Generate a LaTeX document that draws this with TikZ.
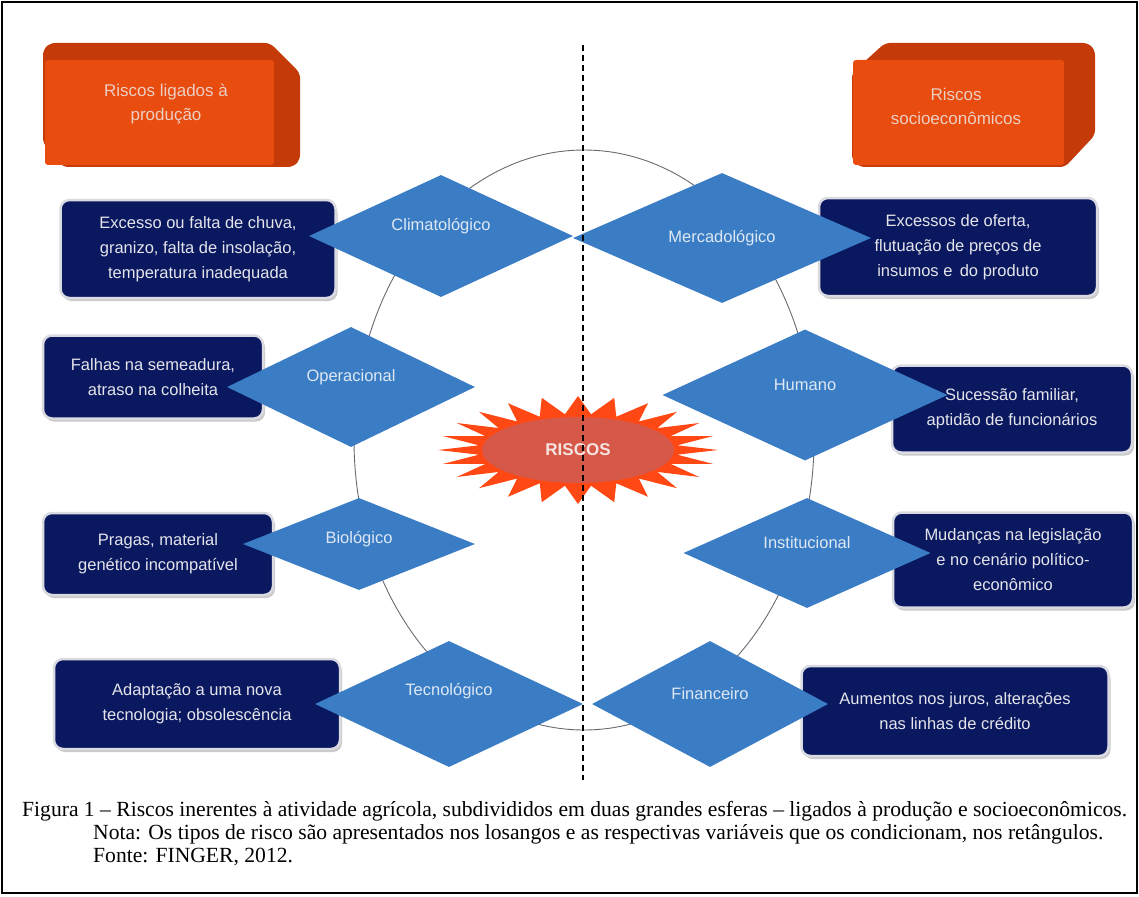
\documentclass[tikz,border=0pt]{standalone}
\usepackage{fontspec}
\setmainfont{Liberation Serif}
\setsansfont{Liberation Sans}
\usetikzlibrary{shapes.geometric,shadows}

\definecolor{navy}{RGB}{10,24,96}
\definecolor{boxedge}{RGB}{218,218,226}
\definecolor{boxtext}{RGB}{228,228,234}
\definecolor{losango}{RGB}{58,125,196}
\definecolor{rtext}{RGB}{222,232,244}
\definecolor{orangeface}{RGB}{232,76,14}
\definecolor{orangebevel}{RGB}{196,58,8}
\definecolor{orangetext}{RGB}{236,206,196}
\definecolor{starout}{RGB}{255,72,20}
\definecolor{starin}{RGB}{214,88,72}
\definecolor{ring}{RGB}{105,105,115}

\newcommand\boxfont{\sffamily\fontsize{16.5}{25}\selectfont}
\newcommand\capfont{\fontsize{21.6}{23}\selectfont}

\tikzset{
  varbox/.style={rectangle,rounded corners=9pt,fill=navy,draw=boxedge,line width=2.5pt,
    text=boxtext,align=center,font=\boxfont,
    drop shadow={shadow xshift=2pt,shadow yshift=-3pt,opacity=.35,fill=black!60}},
  risco/.style={diamond,fill=losango,inner sep=0pt},
  rlabel/.style={text=rtext,font=\boxfont,yshift=10pt},
  toptext/.style={text=orangetext,align=center,font=\sffamily\fontsize{17}{24}\selectfont,inner sep=0pt},
  captxt/.style={anchor=west,inner sep=0pt,font=\capfont}
}

\begin{document}
\begin{tikzpicture}[x=1pt,y=-1pt]
\useasboundingbox (0,0) rectangle (1139,896);
\draw[line width=1.2pt] (2,2) rectangle (1137,893);

\coordinate (O) at (584,440);
\draw[line width=0.9pt,draw=ring] (O) ellipse [x radius=230,y radius=290];

\node (V1) at (198,249) [varbox,minimum width=275pt,minimum height=98pt] {Excesso ou falta de chuva,\\granizo, falta de insolação,\\temperatura inadequada};
\node (V2) at (153,377) [varbox,minimum width=220pt,minimum height=83pt] {Falhas na semeadura,\\atraso na colheita};
\node (V3) at (158,554) [varbox,minimum width=230pt,minimum height=82pt] {Pragas, material\\genético incompatível};
\node (V4) at (197,704) [varbox,minimum width=286pt,minimum height=90pt] {Adaptação a uma nova\\tecnologia; obsolescência};

\node (W1) at (958,247) [varbox,minimum width=278pt,minimum height=98pt] {Excessos de oferta,\\flutuação de preços de\\insumos e\, do produto};
\node (W2) at (1012,409) [varbox,minimum width=240pt,minimum height=87pt] {Sucessão familiar,\\aptidão de funcionários};
\node (W3) at (1013,560) [varbox,minimum width=240pt,minimum height=95pt] {Mudanças na legislação\\e no cenário político-\\econômico};
\node (W4) at (955,711) [varbox,minimum width=307pt,minimum height=90pt] {Aumentos nos juros, alterações\\nas linhas de crédito};

\node (D1) at (441,236) [risco,minimum width=264pt,minimum height=122pt,label={[rlabel]center:Climatológico}] {};
\node (D2) at (722,238) [risco,minimum width=298pt,minimum height=130pt,label={[rlabel,yshift=-10pt]center:Mercadológico}] {};
\node (D3) at (351,387) [risco,minimum width=248pt,minimum height=120pt,label={[rlabel]center:Operacional}] {};
\node (D4) at (805,395) [risco,minimum width=285pt,minimum height=131pt,label={[rlabel]center:Humano}] {};
\node (D5) at (359,544) [risco,minimum width=232pt,minimum height=92pt,label={[rlabel,yshift=-5pt]center:Biológico}] {};
\node (D6) at (807,553) [risco,minimum width=247pt,minimum height=110pt,label={[rlabel]center:Institucional}] {};
\node (D7) at (449,704) [risco,minimum width=268pt,minimum height=126pt,label={[rlabel,yshift=3pt]center:Tecnológico}] {};
\node (D8) at (710,704) [risco,minimum width=236pt,minimum height=126pt,label={[rlabel]center:Financeiro}] {};

\coordinate (S) at (578,450);
\fill[starout,shift={(S)}] (0:140 and 54)
  \foreach \k [evaluate=\k as \a using \k*7.5,
               evaluate=\k as \rx using {isodd(\k)?100:140},
               evaluate=\k as \ry using {isodd(\k)?36:54}] in {1,...,47} { -- (\a:{\rx} and {\ry}) } -- cycle;
\fill[starin] (S) ellipse [x radius=96,y radius=33];
\node (R) at (S) [text={rgb,255:red,245;green,228;blue,224},font=\sffamily\bfseries\fontsize{17}{20}\selectfont] {RISCOS};

\coordinate (T) at (583,45);
\coordinate (B) at (583,780);
\draw[line width=1.6pt,dash pattern=on 6pt off 4pt] (T) -- (B);

\fill[orangebevel,rounded corners=5pt] (43,50) -- (50,43) -- (270,43) -- (300,73) -- (300,160) -- (293,167) -- (63,167) -- (43,143) -- cycle;
\fill[orangeface,rounded corners=3pt] (45,60) rectangle (274,165);
\node (P) at (166,104) [toptext] {Riscos ligados à\\produção};
\fill[orangebevel,rounded corners=5pt] (852,73) -- (885,43) -- (1088,43) -- (1095,50) -- (1095,135) -- (1065,167) -- (860,167) -- (852,160) -- cycle;
\fill[orangeface,rounded corners=3pt] (853,60) rectangle (1064,165);
\node (Q) at (956,106) [toptext] {Riscos\\socioeconômicos};

\node (F1) at (22,811) [captxt] {Figura 1 – Riscos inerentes à atividade agrícola, subdivididos em duas grandes esferas – ligados à produção e socioeconômicos.};
\node (F2) at (93,834) [captxt] {Nota: Os tipos de risco são apresentados nos losangos e as respectivas variáveis que os condicionam, nos retângulos.};
\node (F3) at (93,857) [captxt] {Fonte: FINGER, 2012.};
\end{tikzpicture}
\end{document}
